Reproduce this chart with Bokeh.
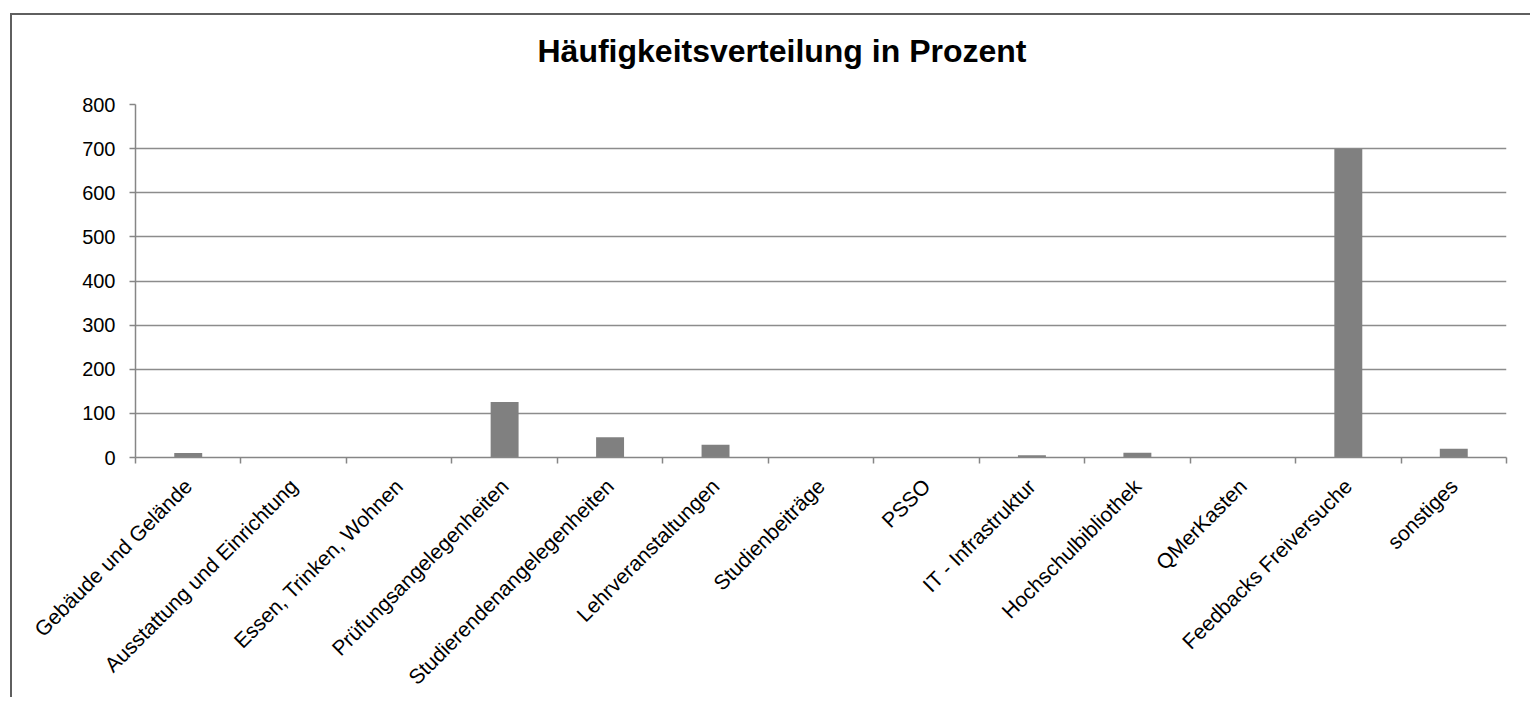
from bokeh.plotting import figure
from bokeh.models import Range1d, FixedTicker, LinearAxis, Title
from bokeh.embed import file_html
from bokeh.resources import INLINE

categories = ["Gebäude und Gelände", "Ausstattung und Einrichtung", "Essen, Trinken, Wohnen",
              "Prüfungsangelegenheiten", "Studierendenangelegenheiten", "Lehrveranstaltungen",
              "Studienbeiträge", "PSSO", "IT - Infrastruktur", "Hochschulbibliothek",
              "QMerKasten", "Feedbacks Freiversuche", "sonstiges"]
values = [10, 0, 0, 126, 46, 29, 0, 0, 5, 11, 0, 700, 20]
y_ticks = [0, 100, 200, 300, 400, 500, 600, 700, 800]
title_text = "Häufigkeitsverteilung in Prozent"

n = len(categories)
centers = [i + 0.5 for i in range(n)]
bounds = list(range(n + 1))

W, H = 1520, 684
p = figure(width=W, height=H, output_backend="svg", toolbar_location=None,
           title_location=None,
           x_range=Range1d(0, n), y_range=Range1d(0, 800),
           x_axis_type=None, min_border_left=123, min_border_right=W - 1494,
           min_border_top=89, min_border_bottom=H - 443)
p.styles = {"margin-left": "10px", "margin-top": "13px",
            "border-left": "2px solid #5f5f5f", "border-top": "2px solid #5f5f5f"}

p.vbar(x=centers, top=values, width=0.265, fill_color="#808080", line_color=None)

xaxis = LinearAxis(ticker=FixedTicker(ticks=centers, minor_ticks=bounds))
xaxis.major_label_overrides = {c: lab for c, lab in zip(centers, categories)}
xaxis.major_label_orientation = 0.785398
xaxis.major_tick_out = 0
xaxis.major_tick_in = 0
xaxis.minor_tick_out = 6
xaxis.minor_tick_in = 0
xaxis.minor_tick_line_color = "#868686"
xaxis.minor_tick_line_width = 1.5
xaxis.axis_line_color = "#868686"
xaxis.axis_line_width = 1.5
xaxis.major_label_text_font = "Liberation Sans"
xaxis.major_label_text_font_size = "21px"
xaxis.major_label_text_color = "black"
xaxis.major_label_standoff = 19
p.add_layout(xaxis, "below")

# blank spacer panel between the title and the plot frame
spacer = Title(text=" ", text_font_size="20px", standoff=10)
p.add_layout(spacer, "above")

title = Title(text=title_text, text_font="Liberation Sans", text_font_size="32px",
              text_font_style="bold", text_color="black", align="left", offset=402,
              vertical_align="top", standoff=0)
p.add_layout(title, "above")

yaxis = p.yaxis[0]
yaxis.ticker = FixedTicker(ticks=y_ticks)
yaxis.major_tick_out = 6
yaxis.major_tick_in = 0
yaxis.minor_tick_line_color = None
yaxis.major_tick_line_color = "#868686"
yaxis.major_tick_line_width = 1.5
yaxis.axis_line_color = "#868686"
yaxis.axis_line_width = 1.5
yaxis.major_label_text_font = "Liberation Sans"
yaxis.major_label_text_font_size = "20px"
yaxis.major_label_text_color = "black"
yaxis.major_label_standoff = 14

p.xgrid.grid_line_color = None
p.ygrid.ticker = FixedTicker(ticks=y_ticks)
p.ygrid.grid_line_color = "#8c8c8c"
p.ygrid.grid_line_width = 1.5
p.outline_line_color = None

open("out.html", "w").write(file_html(p, INLINE))
